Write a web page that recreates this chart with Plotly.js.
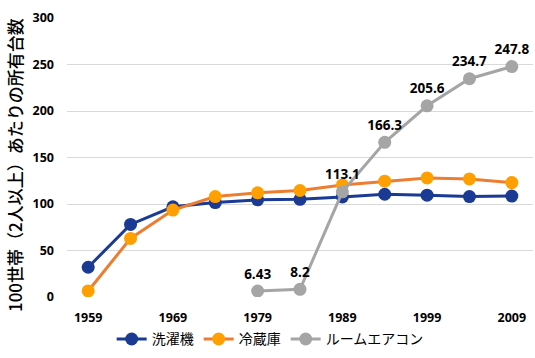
<!DOCTYPE html>
<html>
<head>
<meta charset="utf-8">
<script src="https://cdn.plot.ly/plotly-3.0.1.min.js"></script>
<style>html,body{margin:0;padding:0;background:#fff;}#chart{width:535px;height:358px;}</style>
</head>
<body>
<div id="chart"></div>
<script>
const years = [1959, 1964, 1969, 1974, 1979, 1984, 1989, 1994, 1999, 2004, 2009];
const washer = [32, 78, 97, 101.5, 104.5, 105, 107.5, 110.5, 109.5, 108, 108.5];
const fridge = [6.5, 63, 93.5, 108, 112, 114.5, 120.5, 124.5, 128, 127, 123];
const acYears = [1979, 1984, 1989, 1994, 1999, 2004, 2009];
const aircon = [6.43, 8.2, 113.1, 166.3, 205.6, 234.7, 247.8];
const acLabels = ["6.43", "8.2", "113.1", "166.3", "205.6", "234.7", "247.8"];
const names = ["洗濯機", "冷蔵庫", "ルームエアコン"];
const tickYears = [1959, 1969, 1979, 1989, 1999, 2009];
const yTitle = "100世帯（2人以上）あたりの所有台数";

const baseFont = "Open Sans, Noto Sans CJK JP, sans-serif";
const traces = [
  {x: years, y: washer, name: names[0], mode: "lines+markers",
   line: {color: "#1B3A93", width: 3}, marker: {color: "#1B3A93", size: 13}},
  {x: years, y: fridge, name: names[1], mode: "lines+markers",
   line: {color: "#ED7D31", width: 3}, marker: {color: "#FFA000", size: 13}},
  {x: acYears, y: aircon, name: names[2], mode: "lines+markers+text",
   text: acLabels, textposition: "top center",
   textfont: {family: baseFont, size: 13.5, color: "#000", weight: "bold"},
   line: {color: "#A5A5A5", width: 3}, marker: {color: "#A5A5A5", size: 13}}
];
const layout = {
  width: 535, height: 358,
  margin: {l: 67, r: 2, t: 18, b: 61},
  paper_bgcolor: "#fff", plot_bgcolor: "#fff",
  showlegend: true,
  legend: {orientation: "h", x: 0.505, xanchor: "center", xref: "container",
    y: 0.052, yanchor: "middle", yref: "container",
    font: {family: "Noto Sans CJK JP, sans-serif", size: 14, color: "#000"},
    itemwidth: 30, tracegroupgap: 0},
  xaxis: {range: [1956.5, 2011.5], tickvals: tickYears, ticktext: tickYears.map(String),
    automargin: false,
    showgrid: false, zeroline: false, showline: false, ticks: "", ticklabelstandoff: 11,
    tickfont: {family: baseFont, size: 12.5, color: "#000", weight: "bold"}},
  yaxis: {range: [0, 300], dtick: 50, showgrid: true, gridcolor: "#D9D9D9", gridwidth: 1,
    automargin: false,
    zeroline: false, showline: false, ticks: "", ticklabelstandoff: 12,
    tickfont: {family: baseFont, size: 12.5, color: "#000", weight: "bold"}},
  annotations: [{text: yTitle, textangle: -90, showarrow: false,
    xref: "paper", yref: "paper", x: -0.1137, y: 0.473, xanchor: "center", yanchor: "middle",
    font: {family: "Noto Sans CJK JP, sans-serif", size: 17, color: "#000", weight: 500}}]
};
Plotly.newPlot("chart", traces, layout, {displayModeBar: false, staticPlot: true});
</script>
</body>
</html>
